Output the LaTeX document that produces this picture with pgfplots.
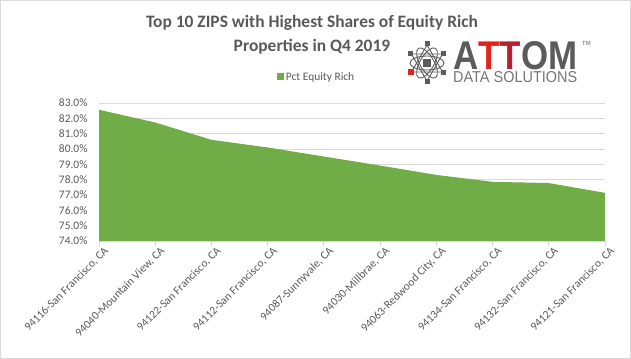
\documentclass[border=0pt]{standalone}
\usepackage{pgfplots}
\pgfplotsset{compat=1.18}
\usepackage{graphicx}
\usepackage{fontspec}
\setmainfont{Carlito}
\newfontfamily\logofont{Liberation Sans}
\definecolor{xlgreen}{HTML}{70AD47}
\definecolor{xltext}{HTML}{595959}
\definecolor{xlgrid}{HTML}{D9D9D9}
\definecolor{attomgray}{HTML}{5C5C5C}
\definecolor{attomred}{HTML}{E2231A}
\definecolor{attomdark}{HTML}{B51F2E}
\begin{document}
\begin{tikzpicture}
\useasboundingbox (0,0) rectangle (631bp,359bp);
\draw[xlgrid] (0.5bp,0.5bp) rectangle (630.5bp,358.5bp);
% title
\node[font=\fontsize{17.5}{20}\selectfont\bfseries, text=xltext, align=center] at (312bp,336bp) {Top 10 ZIPS with Highest Shares of Equity Rich};
\node[font=\fontsize{17.5}{20}\selectfont\bfseries, text=xltext, align=center] at (312bp,312bp) {Properties in Q4 2019};
% logo
\begin{scope}[shift={(427bp,296bp)}]
  \draw[attomgray, line width=0.9bp] (90:18bp) -- (210:18bp) -- (330:18bp) -- cycle;
  \draw[attomgray, line width=0.9bp] (30:18bp) -- (150:18bp) -- (270:18bp) -- cycle;
  \draw[attomgray, line width=0.9bp] (0,0) ellipse (17bp and 7bp);
  \draw[attomgray, line width=0.9bp, rotate=60] (0,0) ellipse (17bp and 7bp);
  \draw[attomgray, line width=0.9bp, rotate=120] (0,0) ellipse (17bp and 7bp);
  \foreach \a in {30,90,150,270,330} {\fill[attomgray] (\a:19bp) ++(-2.5bp,-2.5bp) rectangle ++(5bp,5bp);}
  \fill[attomred] (210:19bp) ++(-3bp,-3bp) rectangle ++(6bp,6bp);
  \fill[attomgray] (-4bp,-4bp) rectangle (4bp,4bp);
\end{scope}
\node[anchor=south west, inner sep=0pt] at (453bp,289bp) {\resizebox{124bp}{28bp}{\logofont\bfseries\textcolor{attomgray}{A}\textcolor{attomred}{T}\textcolor{attomdark}{T}\textcolor{attomgray}{OM}}};
\node[anchor=south west, inner sep=0pt] at (453bp,276bp) {\resizebox{124bp}{11bp}{\logofont\textcolor{attomgray!85}{DATA SOLUTIONS}}};
\node[anchor=north west, inner sep=0pt, font=\logofont\fontsize{6}{7}\selectfont, text=attomgray] at (582bp,318bp) {TM};
\begin{axis}[
  at={(99bp,118bp)}, anchor=south west,
  scale only axis, width=506bp, height=138bp,
  xmin=0, xmax=9, ymin=74, ymax=83,
  ytick={74,75,...,83},
  yticklabel={\pgfmathprintnumber[fixed,fixed zerofill,precision=1]{\tick}\%},
  /pgf/number format/assume math mode=true,
  xtick={0,...,9},
  xticklabels={{94116-San Francisco, CA},{94040-Mountain View, CA},{94122-San Francisco, CA},{94112-San Francisco, CA},{94087-Sunnyvale, CA},{94030-Millbrae, CA},{94063-Redwood City, CA},{94134-San Francisco, CA},{94132-San Francisco, CA},{94121-San Francisco, CA}},
  xticklabel style={rotate=45, anchor=north east, inner sep=1bp, xshift=4bp, yshift=-2bp},
  tick label style={font=\fontsize{11.5}{13}\selectfont, text=xltext},
  ymajorgrids, major grid style={xlgrid, line width=0.8bp},
  axis y line*=left, y axis line style={draw=none},
  axis x line*=bottom, x axis line style={xlgrid, line width=0.8bp},
  ytick style={draw=none},
  xtick style={xlgrid, line width=0.8bp},
  tick align=outside, major tick length=5bp,
  yticklabel style={xshift=-3bp},
  legend style={at={(0.43,1.19)}, anchor=center, draw=none, fill=none, font=\fontsize{11.5}{13}\selectfont, text=xltext, inner sep=0pt},
  legend image code/.code={\fill[xlgreen] (0bp,-3.5bp) rectangle (7bp,3.5bp);},
]
\addplot[fill=xlgreen, draw=none] coordinates {
  (0,82.56) (1,81.73) (2,80.60) (3,80.10) (4,79.51) (5,78.92) (6,78.31) (7,77.86) (8,77.78) (9,77.14)
} \closedcycle;
\addlegendentry{Pct Equity Rich}
\end{axis}
\end{tikzpicture}
\end{document}
